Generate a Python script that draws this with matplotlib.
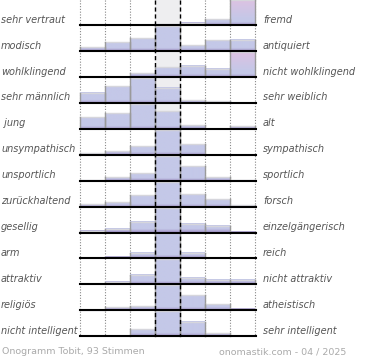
import numpy as np
import matplotlib
matplotlib.use("Agg")
import matplotlib.pyplot as plt
from matplotlib.colors import to_rgb

# Onogramm data: share per answer step (100 = full row, >100 = overflow)
left_labels = ["sehr vertraut", "modisch", "wohlklingend", "sehr männlich", " jung",
               "unsympathisch", "unsportlich", "zurückhaltend", "gesellig", "arm",
               "attraktiv", "religiös", "nicht intelligent"]
right_labels = ["fremd", "antiquiert", "nicht wohlklingend", "sehr weiblich", "alt",
                "sympathisch", "sportlich", "forsch", "einzelgängerisch", "reich",
                "nicht attraktiv", "atheistisch", "sehr intelligent"]
values = [
    [0, 0, 0, 4, 9, 24, 130],
    [15, 35, 51, 100, 23, 43, 45],
    [0, 0, 15, 40, 45, 33, 125],
    [41, 67, 100, 61, 12, 7, 0],
    [47, 63, 100, 72, 16, 0, 12],
    [6, 14, 34, 100, 44, 0, 0],
    [2, 16, 29, 100, 60, 16, 4],
    [11, 20, 47, 100, 51, 31, 7],
    [8, 16, 43, 100, 33, 25, 4],
    [0, 6, 21, 100, 21, 0, 0],
    [0, 11, 37, 100, 25, 17, 17],
    [2, 11, 16, 100, 59, 23, 5],
    [0, 0, 27, 100, 57, 12, 0],
]
footer_left = "Onogramm Tobit, 93 Stimmen"
footer_right = "onomastik.com - 04 / 2025"

# layout in pixels
W, H = 370, 360
X0, BW, NB = 80, 25, 7
Y0, RH = 25.3, 25.9
FULL = 25.0

BLUE = np.array(to_rgb("#c4c8e8"))
PURPLE = np.array(to_rgb("#a496c8"))
PINK = np.array(to_rgb("#dcc2e2"))


def bar_image(h_px, pink):
    n = 60
    t = np.linspace(0, h_px, n)  # distance from baseline
    cols = []
    for d in t:
        if d < 3:
            c = PURPLE + (BLUE - PURPLE) * (d / 3)
        else:
            c = BLUE.copy()
        if pink:
            f = np.clip((d - 6) / (FULL - 6), 0, 1)
            c = c + (PINK - c) * f
        cols.append(c)
    img = np.array(cols)[:, None, :]
    return img


fig = plt.figure(figsize=(W / 100, H / 100), dpi=100)
ax = fig.add_axes([0, 0, 1, 1])
ax.set_xlim(0, W)
ax.set_ylim(H, 0)
ax.axis("off")

last_base = Y0 + RH * (len(values) - 1)

# neutral column background
ax.add_patch(plt.Rectangle((X0 + 3 * BW, 0), BW, last_base, color="#eeeef0", zorder=0))

for i, row in enumerate(values):
    base = Y0 + RH * i
    for j, v in enumerate(row):
        h = min(v, 100) / 100 * FULL
        if h <= 0:
            continue
        x = X0 + j * BW
        img = bar_image(h, v > 100)
        ax.imshow(img, extent=[x, x + BW, base, base - h], origin="lower",
                  aspect="auto", interpolation="bilinear", zorder=2)
        ax.plot([x, x + BW], [base - h, base - h], color="#d6d6dc", lw=1, zorder=3)
        ax.plot([x, x], [base, base - h], color="#9a9a9a", lw=1, zorder=3)
        ax.plot([x + BW, x + BW], [base, base - h], color="#9a9a9a", lw=1, zorder=3)
    ax.plot([X0, X0 + NB * BW + 1], [base, base], color="black", lw=1.5, zorder=5)
    ax.text(1, base - 5.5, left_labels[i], fontsize=7, style="italic",
            color="#555555", va="center", ha="left")
    ax.text(263, base - 5.5, right_labels[i], fontsize=7, style="italic",
            color="#555555", va="center", ha="left")

# grid lines
for j in range(NB + 1):
    x = X0 + j * BW
    if j in (3, 4):
        ax.plot([x, x], [0, last_base], color="black", lw=1, ls=(0, (3, 2)), zorder=4)
    else:
        ax.plot([x, x], [0, last_base], color="#888888", lw=0.8, ls=(0, (1, 1.5)), zorder=1)

ax.text(2, 352, footer_left, fontsize=6.8, color="#aaaaaa", va="center", ha="left")
ax.text(346, 352, footer_right, fontsize=6.8, color="#aaaaaa", va="center", ha="right")

fig.savefig("out.png", dpi=100)
